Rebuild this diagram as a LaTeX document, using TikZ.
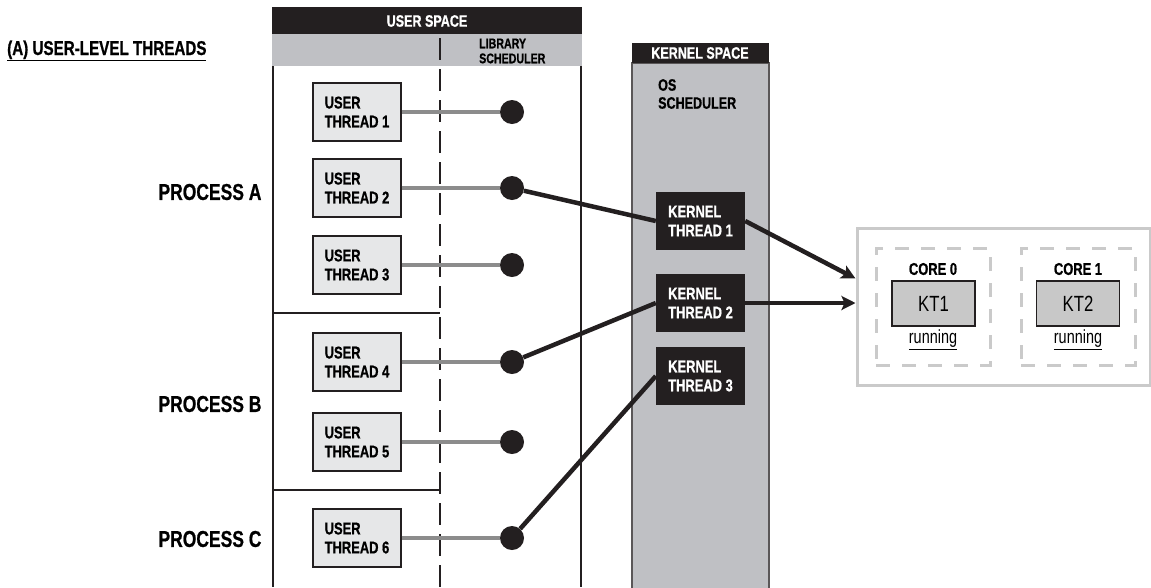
\documentclass[tikz,border=0pt]{standalone}
\usepackage{fontspec}
\setmainfont[FakeStretch=0.76, BoldFeatures={FakeBold=0.8}]{Liberation Sans}
\usetikzlibrary{positioning,arrows.meta}

\definecolor{inkblack}{HTML}{231F20}
\definecolor{colgray}{HTML}{BFC0C4}
\definecolor{boxgray}{HTML}{E6E7E8}
\definecolor{ktgray}{HTML}{C8C8C8}
\definecolor{linkgray}{HTML}{8C8C8C}
\definecolor{framegray}{HTML}{CACACA}

\tikzset{
  uthread/.style={draw=inkblack, line width=1.2pt, fill=boxgray, minimum width=88pt,
    minimum height=58pt, inner sep=0pt, align=left,
    font=\bfseries\fontsize{17}{19}\selectfont},
  kthread/.style={fill=inkblack, text=white, minimum width=89pt, minimum height=58pt,
    inner sep=0pt, align=left, font=\bfseries\fontsize{17}{19}\selectfont},
  udot/.style={circle, fill=inkblack, minimum size=24pt, inner sep=0pt},
  ulink/.style={draw=linkgray, line width=4.5pt},
  klink/.style={draw=inkblack, line width=4.5pt},
  proclabel/.style={anchor=east, font=\bfseries\fontsize{23}{26}\selectfont},
  headtext/.style={text=white, font=\bfseries\fontsize{16.5}{19}\selectfont},
  coretext/.style={font=\bfseries\fontsize{17}{19}\selectfont},
  corebox/.style={draw=framegray, line width=3pt, dash pattern=on 14pt off 12pt,
    minimum width=114pt, minimum height=117pt},
  ktbox/.style={draw=inkblack, line width=1.2pt, fill=ktgray, minimum width=83pt,
    minimum height=45pt, font=\fontsize{22}{24}\selectfont}
}

\begin{document}
\begin{tikzpicture}[x=1pt, y=-1pt]
  \useasboundingbox (0,0) rectangle (1151,587);

  % Title
  \node[anchor=base west, inner sep=0pt, font=\bfseries\fontsize{20}{22}\selectfont]
    (title) at (7,55) {\underline{(A) USER-LEVEL THREADS}};

  % User space column
  \fill[inkblack] (272,7) rectangle (582,34);
  \fill[colgray] (272,34) rectangle (582,66);
  \draw[inkblack, line width=1.3pt] (273,66) -- (273,587);
  \draw[inkblack, line width=1.3pt] (581,66) -- (581,587);
  \draw[inkblack, line width=1.3pt, dash pattern=on 22pt off 9pt] (440,38) -- (440,587);
  \node[headtext] (userspace) at (427,21) {USER SPACE};
  \node[anchor=west, align=left, inner sep=0pt, font=\bfseries\fontsize{14}{15}\selectfont]
    (libsched) at (479,51) {LIBRARY\\SCHEDULER};

  % Process borders
  \draw[inkblack, line width=1.3pt] (273,313) -- (440,313);
  \draw[inkblack, line width=1.3pt] (273,490) -- (440,490);

  % Process labels
  \node[proclabel] (procA) at (265,192) {PROCESS A};
  \node[proclabel] (procB) at (265,404) {PROCESS B};
  \node[proclabel] (procC) at (265,539) {PROCESS C};

  % Kernel space column
  \draw[draw=inkblack!75, line width=1.3pt, fill=colgray] (632,63) rectangle (769,600);
  \fill[inkblack] (632,43) rectangle (769,63);
  \node[headtext] (kernelspace) at (700,53) {KERNEL SPACE};
  \node[anchor=west, align=left, inner sep=0pt, font=\bfseries\fontsize{16.5}{18}\selectfont]
    (ossched) at (658,94) {OS\\SCHEDULER};

  % User threads with library scheduler slots
  \foreach \name/\num/\y in {ut1/1/112, ut2/2/188, ut3/3/265, ut4/4/362, ut5/5/442, ut6/6/538} {
    \node[uthread] (\name) at (357,\y) {USER\\THREAD \num};
    \node[udot] (\name-dot) at (512,\y) {};
    \draw[ulink] (\name) -- (\name-dot);
  }

  % Kernel threads
  \node[kthread] (kt1) at (700.5,221) {KERNEL\\THREAD 1};
  \node[kthread] (kt2) at (700.5,303) {KERNEL\\THREAD 2};
  \node[kthread] (kt3) at (700.5,376) {KERNEL\\THREAD 3};

  % Mapping user threads to kernel threads
  \draw[klink] (ut2-dot) -- (kt1.west);
  \draw[klink] (ut4-dot) -- (kt2.west);
  \draw[klink] (ut6-dot) -- (kt3.west);

  % CPU cores
  \node[draw=framegray, line width=3pt, minimum width=293pt, minimum height=157pt]
    (cores) at (1003.5,306.5) {};
  \node[corebox] (core0) at (933,306.5) {};
  \node[corebox] (core1) at (1078,306.5) {};
  \node[coretext] (core0-label) at (933,269) {CORE 0};
  \node[coretext] (core1-label) at (1078,269) {CORE 1};
  \node[ktbox] (run1) at (933.5,303.5) {KT1};
  \node[ktbox] (run2) at (1078,303.5) {KT2};
  \node[font=\fontsize{19}{21}\selectfont] (state0) at (933,340) {\underline{running}};
  \node[font=\fontsize{19}{21}\selectfont] (state1) at (1078,340) {\underline{running}};

  % Dispatch arrows
  \draw[klink, -{Stealth[length=14pt, width=14pt, inset=3pt]}] (kt1.east) -- ([yshift=28pt]cores.west);
  \draw[klink, -{Stealth[length=14pt, width=14pt, inset=3pt]}] (kt2.east) -- (kt2.east -| cores.west);
\end{tikzpicture}
\end{document}
